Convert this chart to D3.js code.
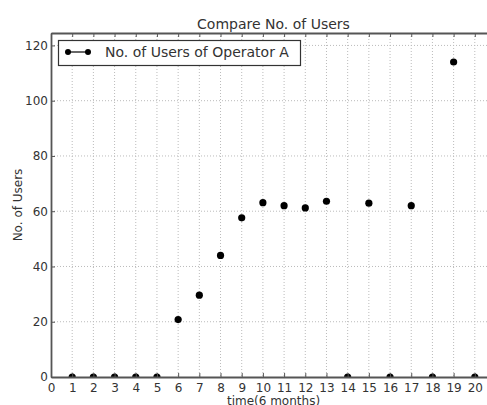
<!DOCTYPE html>
<html><head><meta charset="utf-8">
<script src="https://cdn.jsdelivr.net/npm/d3@7"></script>
<style>body{margin:0;background:#fff;} svg{display:block;}</style>
</head><body>
<script>
const xValues = [1,2,3,4,5,6,7,8,9,10,11,12,13,14,15,16,17,18,19,20];
const users = [0,0,0,0,0,20.8,29.6,44,57.6,63.1,62,61.2,63.6,0,62.9,0,62,0,114,0];
const xTicks = d3.range(0,21);
const yTicks = [0,20,40,60,80,100,120];
const title = "Compare No. of Users";
const seriesName = "No. of Users of Operator A";
const xLabel = "time(6 months)";
const yLabel = "No. of Users";

const W=487,H=405;
const L=51,T=33,R=496,B=377;
const svg=d3.select("body").append("svg").attr("width",W).attr("height",H);
const x=d3.scaleLinear().domain([0,21]).range([L,R]);
const y=d3.scaleLinear().domain([0,124.5]).range([B,T]);
const font="DejaVu Sans, sans-serif";
const textCol="#333";

// grid
const g=svg.append("g");
g.selectAll(".gx").data(xTicks.slice(1)).enter().append("line")
 .attr("x1",d=>x(d)).attr("x2",d=>x(d)).attr("y1",T).attr("y2",B)
 .attr("stroke","#bbb").attr("stroke-width",1).attr("stroke-dasharray","1,2");
g.selectAll(".gy").data(yTicks.slice(1)).enter().append("line")
 .attr("x1",L).attr("x2",R).attr("y1",d=>y(d)).attr("y2",d=>y(d))
 .attr("stroke","#bbb").attr("stroke-width",1).attr("stroke-dasharray","1,2");

// clip for points
svg.append("clipPath").attr("id","clip").append("rect").attr("x",L).attr("y",T).attr("width",R-L).attr("height",B-T);
svg.append("g").attr("clip-path","url(#clip)").selectAll("circle").data(xValues).enter().append("circle")
 .attr("cx",d=>x(d)).attr("cy",(d,i)=>y(users[i])).attr("r",3.6).attr("fill","#000");

// axes with inward ticks
const xAxisB=d3.axisBottom(x).tickValues(xTicks).tickSizeInner(-4).tickSizeOuter(0).tickPadding(6);
const xAxisT=d3.axisTop(x).tickValues(xTicks).tickSizeInner(-4).tickSizeOuter(0).tickFormat("");
const yAxisL=d3.axisLeft(y).tickValues(yTicks).tickSizeInner(-4).tickSizeOuter(0).tickPadding(3);
const gb=svg.append("g").attr("transform",`translate(0,${B})`).call(xAxisB);
const gt=svg.append("g").attr("transform",`translate(0,${T})`).call(xAxisT);
const gl=svg.append("g").attr("transform",`translate(${L},0)`).call(yAxisL);
[gb,gt,gl].forEach(a=>{
  a.select(".domain").attr("stroke","#555").attr("stroke-width",1.8);
  a.selectAll(".tick line").attr("stroke","#555");
  a.selectAll(".tick text").attr("font-family",font).attr("font-size",12).attr("fill",textCol);
});

// title & labels
svg.append("text").attr("x",(L+R)/2).attr("y",28.5).attr("text-anchor","middle")
 .attr("font-family",font).attr("font-size",14).attr("fill",textCol).text(title);
svg.append("text").attr("x",(L+R)/2).attr("y",405).attr("text-anchor","middle")
 .attr("font-family",font).attr("font-size",12).attr("fill",textCol).text(xLabel);
svg.append("text").attr("transform",`translate(22,${(T+B)/2}) rotate(-90)`).attr("text-anchor","middle")
 .attr("font-family",font).attr("font-size",12).attr("fill",textCol).text(yLabel);

// legend
const lg=svg.append("g");
lg.append("rect").attr("x",58.5).attr("y",40.5).attr("width",242).attr("height",25)
 .attr("fill","#fff").attr("stroke","#333").attr("stroke-width",1.2);
lg.append("line").attr("x1",68).attr("x2",88).attr("y1",52).attr("y2",52).attr("stroke","#000").attr("stroke-width",1.2);
lg.selectAll("circle").data([68,88]).enter().append("circle").attr("cx",d=>d).attr("cy",52).attr("r",3).attr("fill","#000");
lg.append("text").attr("x",105).attr("y",57).attr("font-family",font).attr("font-size",14).attr("fill",textCol).text(seriesName);
</script>
</body></html>
